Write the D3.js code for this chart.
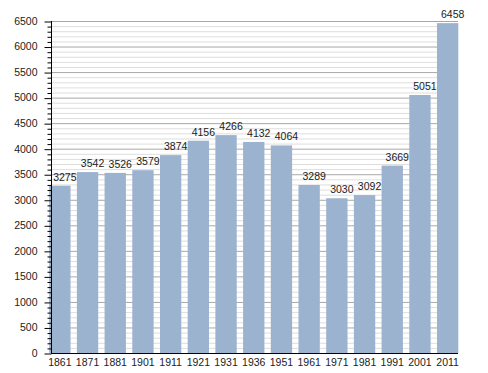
<!DOCTYPE html>
<html>
<head>
<meta charset="utf-8">
<script src="https://cdn.jsdelivr.net/npm/d3@7"></script>
<style>
  body { margin: 0; background: #fff; }
  text { font-family: "Liberation Sans", Arial, sans-serif; fill: #222; }
</style>
</head>
<body>
<div id="app"></div>
<script>
// census years and population
const years = ["1861", "1871", "1881", "1901", "1911", "1921", "1931", "1936", "1951", "1961", "1971", "1981", "1991", "2001", "2011"];
const population = [3275, 3542, 3526, 3579, 3874, 4156, 4266, 4132, 4064, 3289, 3030, 3092, 3669, 5051, 6458];
const yTicks = [0, 500, 1000, 1500, 2000, 2500, 3000, 3500, 4000, 4500, 5000, 5500, 6000, 6500];

const W = 488, H = 373;
const m = { t: 21, r: 30, b: 20, l: 51 };
const plotR = 458;

const svg = d3.select("#app")
    .append("svg")
    .attr("width", W)
    .attr("height", H);

const xScale = d3.scaleBand()
    .domain(years)
    .range([46, 461.5])
    .paddingInner(0.23)
    .paddingOuter(0.115);

const yScale = d3.scaleLinear()
    .domain([0, 6500])
    .range([H - m.b, m.t]);

// minor grid every 100
const minor = d3.range(0, 6501, 100).filter(v => v % 500 != 0);

svg.append("g")
    .selectAll("line")
    .data(minor).enter()
    .append("line")
        .attr("x1", m.l)
        .attr("x2", plotR)
        .attr("y1", d => yScale(d) + 0.5)
        .attr("y2", d => yScale(d) + 0.5)
        .style("stroke", "#dedede")
        .style("stroke-width", 1);

svg.append("g")
    .selectAll("line")
    .data(yTicks.slice(1)).enter()
    .append("line")
        .attr("x1", m.l)
        .attr("x2", plotR)
        .attr("y1", d => yScale(d) + 0.5)
        .attr("y2", d => yScale(d) + 0.5)
        .style("stroke", "#a8a8a8")
        .style("stroke-width", 1);

// bars
svg.append("g")
    .selectAll("rect")
    .data(population).enter()
    .append("rect")
        .attr("x", (d, i) => xScale(years[i]))
        .attr("y", d => yScale(d))
        .attr("width", xScale.bandwidth())
        .attr("height", d => yScale(0) - yScale(d))
        .style("fill", "#9bb3cf");

// value labels
svg.append("g")
    .selectAll("text")
    .data(population).enter()
    .append("text")
        .attr("x", (d, i) => xScale(years[i]) + xScale.bandwidth() / 2 + 5)
        .attr("y", d => yScale(d) - 5)
        .attr("text-anchor", "middle")
        .style("font-size", "10.5px")
        .text(d => d);

// y axis with minor ticks
svg.append("g")
    .attr("transform", "translate(" + (m.l + 0.5) + ",0)")
    .call(d3.axisLeft(yScale).tickValues(minor).tickSize(4).tickFormat(""))
    .call(g => g.select(".domain").remove())
    .selectAll("line").attr("transform", "translate(0,0.5)");

const yAxis = svg.append("g")
    .attr("transform", "translate(" + (m.l + 0.5) + ",0)")
    .call(d3.axisLeft(yScale).tickValues(yTicks).tickSize(7).tickSizeOuter(0).tickPadding(7).tickFormat(d3.format("d")));
yAxis.selectAll("text").style("font-size", "10.5px").style("fill", "#222");
yAxis.select(".domain").attr("d", "M0," + yScale(6500) + "V" + (yScale(0) + 0.5));
yAxis.selectAll("line").attr("transform", "translate(0,0.5)");

// x axis line and labels
svg.append("line")
    .attr("x1", m.l)
    .attr("x2", plotR)
    .attr("y1", yScale(0) + 0.5)
    .attr("y2", yScale(0) + 0.5)
    .style("stroke", "#000");

svg.append("g")
    .selectAll("text")
    .data(years).enter()
    .append("text")
        .attr("x", d => xScale(d) + xScale.bandwidth() / 2)
        .attr("y", yScale(0) + 13)
        .attr("text-anchor", "middle")
        .style("font-size", "10.5px")
        .text(d => d);
</script>
</body>
</html>
